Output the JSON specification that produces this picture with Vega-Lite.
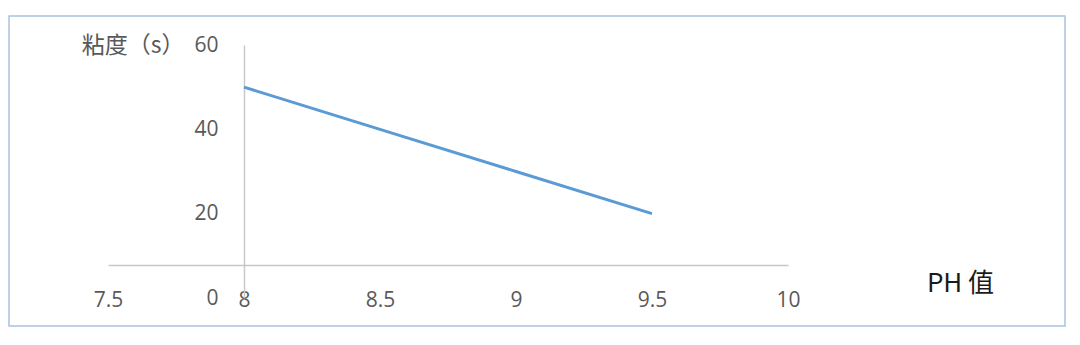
{
  "$schema": "https://vega.github.io/schema/vega-lite/v6.json",
  "autosize": {"type": "none"},
  "width": 1056,
  "height": 310,
  "padding": {"left": 9, "top": 16, "right": 15, "bottom": 19},
  "background": "white",
  "config": {
    "view": {"stroke": "#A9C4E0", "strokeWidth": 1.5},
    "axis": {"grid": false}
  },
  "data": {
    "values": [
      {"ph": 8, "viscosity": 50},
      {"ph": 8.5, "viscosity": 40},
      {"ph": 9, "viscosity": 30},
      {"ph": 9.5, "viscosity": 20}
    ]
  },
  "mark": {"type": "line", "color": "#5B9BD5", "strokeWidth": 3},
  "encoding": {
    "x": {
      "field": "ph",
      "type": "quantitative",
      "scale": {"domain": [7.5, 10], "range": [99, 779], "nice": false, "zero": false},
      "axis": {
        "orient": "bottom",
        "offset": -61,
        "values": [7.5, 8, 8.5, 9, 9.5, 10],
        "format": ".2~f",
        "ticks": false,
        "domainColor": "#C8C8C8",
        "domainWidth": 1.5,
        "labelFont": "Open Sans",
        "labelFontSize": 21,
        "labelColor": "#595959",
        "labelPadding": 24,
        "labelFlush": false,
        "title": "PH 值",
        "titleFont": "Noto Sans CJK SC",
        "titleFontSize": 26,
        "titleFontWeight": "normal",
        "titleColor": "#1a1a1a",
        "titleX": 951,
        "titleY": 18,
        "titleAlign": "center",
        "titleBaseline": "middle"
      }
    },
    "y": {
      "field": "viscosity",
      "type": "quantitative",
      "scale": {"domain": [0, 60], "range": [282, 29], "nice": false},
      "axis": {
        "orient": "left",
        "offset": -235,
        "values": [0, 20, 40, 60],
        "ticks": false,
        "domainColor": "#C8C8C8",
        "domainWidth": 1.5,
        "labelFont": "Open Sans",
        "labelFontSize": 21,
        "labelColor": "#595959",
        "labelPadding": 26,
        "labelFlush": false,
        "title": "粘度（s）",
        "titleFont": "Noto Sans CJK SC",
        "titleFontSize": 23,
        "titleFontWeight": "normal",
        "titleColor": "#595959",
        "titleAngle": 0,
        "titleX": -60,
        "titleY": 29,
        "titleAlign": "right",
        "titleBaseline": "middle"
      }
    }
  }
}
